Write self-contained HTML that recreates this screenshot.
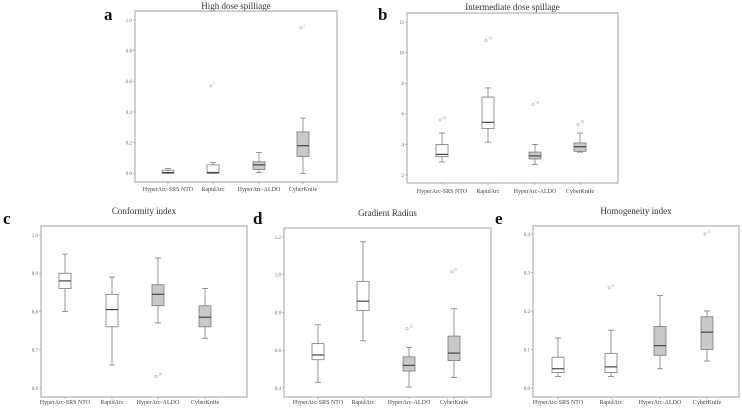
<!DOCTYPE html>
<html><head><meta charset="utf-8"><style>
html,body{margin:0;padding:0;background:#fff;}
svg{display:block;font-family:"Liberation Serif",serif;}
</style></head><body>
<svg id="fig" width="742" height="410" viewBox="0 0 742 410" xmlns="http://www.w3.org/2000/svg"></svg>
<script>
const categories = ["HyperArc-SRS NTO","RapidArc","HyperArc-ALDO","CyberKnife"];
// Panel a: High dose spillage
const aLow=[0,0,0.005,0]; const aQ1=[0,0,0.025,0.11]; const aMed=[0.005,0.005,0.055,0.18]; const aQ3=[0.02,0.055,0.075,0.27]; const aHigh=[0.03,0.07,0.135,0.36];
const aOut=[null,0.57,null,0.95]; const aOutLbl=["","1","","1"];
const aTicks=["0.0","0.2","0.4","0.6","0.8","1.0"];
// Panel b: Intermediate dose spillage
const bLow=[2.85,4.15,2.7,3.5]; const bQ1=[3.2,5.05,3.05,3.55]; const bMed=[3.35,5.45,3.25,3.85]; const bQ3=[4.0,7.1,3.5,4.1]; const bHigh=[4.75,7.7,4.0,4.75];
const bOut=[5.6,10.8,6.6,5.3]; const bOutLbl=["10","19","10","19"];
const bTicks=["2","4","6","8","10","12"];
// Panel c: Conformity index
const cLow=[0.80,0.66,0.77,0.73]; const cQ1=[0.86,0.76,0.815,0.76]; const cMed=[0.88,0.805,0.845,0.785]; const cQ3=[0.90,0.845,0.87,0.815]; const cHigh=[0.95,0.89,0.94,0.86];
const cOut=[null,null,0.63,null]; const cOutLbl=["","","10",""];
const cTicks=["0.6","0.7","0.8","0.9","1.0"];
// Panel d: Gradient Radius
const dLow=[0.43,0.65,0.405,0.455]; const dQ1=[0.55,0.81,0.49,0.545]; const dMed=[0.575,0.86,0.52,0.585]; const dQ3=[0.635,0.965,0.565,0.675]; const dHigh=[0.735,1.175,0.615,0.82];
const dOut=[null,null,0.715,1.015]; const dOutLbl=["","","12","11"];
const dTicks=["0.4","0.6","0.8","1.0","1.2"];
// Panel e: Homogeneity index
const eLow=[0.03,0.03,0.05,0.07]; const eQ1=[0.04,0.04,0.085,0.10]; const eMed=[0.05,0.055,0.11,0.145]; const eQ3=[0.08,0.09,0.16,0.185]; const eHigh=[0.13,0.15,0.24,0.20];
const eOut=[null,0.26,null,0.40]; const eOutLbl=["","11","","11"];
const eTicks=["0.0","0.1","0.2","0.3","0.4"];

const NS="http://www.w3.org/2000/svg";
const svg=document.getElementById('fig');
function mk(tag,attrs,parent){const e=document.createElementNS(NS,tag);for(const k in attrs)e.setAttribute(k,attrs[k]);(parent||svg).appendChild(e);return e;}

const panels=[
 {id:'a',title:'High dose spilliage',fx0:135,fx1:337,fy0:11,fy1:182,ty0:173.3,ty1:20,lo:aLow,q1:aQ1,med:aMed,q3:aQ3,hi:aHigh,out:aOut,ol:aOutLbl,ticks:aTicks,cx:[168,213,259,303],letter:[104,20],titleY:9,catY:191},
 {id:'b',title:'Intermediate dose spillage',fx0:407,fx1:618,fy0:13,fy1:183,ty0:175,ty1:22.3,lo:bLow,q1:bQ1,med:bMed,q3:bQ3,hi:bHigh,out:bOut,ol:bOutLbl,ticks:bTicks,cx:[442,488,535,580],letter:[378,20],titleY:10,catY:193},
 {id:'c',title:'Conformity index',fx0:41,fx1:247,fy0:226,fy1:397,ty0:388,ty1:235,lo:cLow,q1:cQ1,med:cMed,q3:cQ3,hi:cHigh,out:cOut,ol:cOutLbl,ticks:cTicks,cx:[65,112,158,205],letter:[3,224],titleY:214,catY:404},
 {id:'d',title:'Gradient Radius',fx0:284,fx1:491,fy0:228,fy1:397,ty0:388,ty1:237,lo:dLow,q1:dQ1,med:dMed,q3:dQ3,hi:dHigh,out:dOut,ol:dOutLbl,ticks:dTicks,cx:[318,363,409,454],letter:[253,224],titleY:216,catY:404},
 {id:'e',title:'Homogeneity index',fx0:533,fx1:739,fy0:226,fy1:397,ty0:388,ty1:234,lo:eLow,q1:eQ1,med:eMed,q3:eQ3,hi:eHigh,out:eOut,ol:eOutLbl,ticks:eTicks,cx:[558,611,660,707],letter:[495,224],titleY:214,catY:404}
];

panels.forEach(p=>{
 const g=mk('g',{});
 
 
 const t0=parseFloat(p.ticks[0]), t1=parseFloat(p.ticks[p.ticks.length-1]);
 const y=v=>p.ty0+(v-t0)/(t1-t0)*(p.ty1-p.ty0);
 const L=mk('text',{x:p.letter[0],y:p.letter[1],'font-size':17,'font-weight':'bold',fill:'#111'},g);
 L.textContent=p.id;
 
 
 const T=mk('text',{x:(p.fx0+p.fx1)/2,y:p.titleY,'font-size':9,'text-anchor':'middle',fill:'#333'},g);
 T.textContent=p.title;
 
 
 const F=mk('rect',{x:p.fx0,y:p.fy0,width:p.fx1-p.fx0,height:p.fy1-p.fy0,fill:'none',stroke:'#8a8a8a','stroke-width':0.8},g);
 
 
 p.ticks.forEach((tl,i)=>{
  const yy=y(parseFloat(tl));
  mk('line',{x1:p.fx0-2,x2:p.fx0,y1:yy,y2:yy,stroke:'#888','stroke-width':0.6},g);
  const tx=mk('text',{x:p.fx0-3,y:yy+1.8,'font-size':5,'text-anchor':'end',fill:'#666'},g);
  tx.textContent=tl;
  
  
 });
 categories.forEach((c,i)=>{
  const cx=p.cx[i];
  mk('line',{x1:cx,x2:cx,y1:p.fy1,y2:p.fy1+2,stroke:'#888','stroke-width':0.6},g);
  const ct=mk('text',{x:cx,y:p.catY,'font-size':6,'text-anchor':'middle',fill:'#444'},g);
  ct.textContent=c;
  
  
  const bw=12, fill=i<2?'#ffffff':'#c9c9c9', sc='#7a7a7a';
  mk('line',{x1:cx,x2:cx,y1:y(p.hi[i]),y2:y(p.q3[i]),stroke:sc,'stroke-width':0.8},g);
  mk('line',{x1:cx,x2:cx,y1:y(p.q1[i]),y2:y(p.lo[i]),stroke:sc,'stroke-width':0.8},g);
  mk('line',{x1:cx-3,x2:cx+3,y1:y(p.hi[i]),y2:y(p.hi[i]),stroke:sc,'stroke-width':0.8},g);
  mk('line',{x1:cx-3,x2:cx+3,y1:y(p.lo[i]),y2:y(p.lo[i]),stroke:sc,'stroke-width':0.8},g);
  const b=mk('rect',{x:cx-bw/2,y:y(p.q3[i]),width:bw,height:Math.max(0.5,y(p.q1[i])-y(p.q3[i])),fill:fill,stroke:sc,'stroke-width':0.8},g);
  
  
  mk('line',{x1:cx-bw/2,x2:cx+bw/2,y1:y(p.med[i]),y2:y(p.med[i]),stroke:'#444','stroke-width':1.2},g);
  if(p.out[i]!==null){
   const oy=y(p.out[i]);
   const o=mk('circle',{cx:cx-2,cy:oy,r:1.2,fill:'none',stroke:'#888','stroke-width':0.5},g);
   
   
   const ol=mk('text',{x:cx,y:oy-1,'font-size':4,fill:'#999'},g);
   ol.textContent=p.ol[i];
  }
 });
});
</script>
</body></html>
